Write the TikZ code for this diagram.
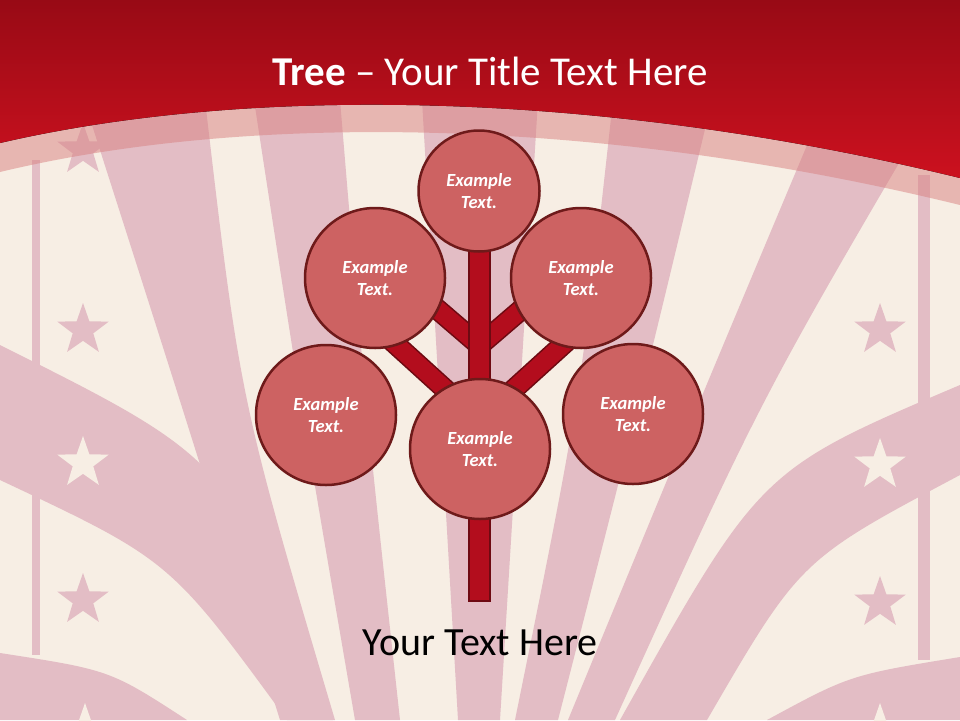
\documentclass[tikz,border=0pt]{standalone}
\usepackage{fontspec}
\setmainfont{Carlito}
\usetikzlibrary{shapes.geometric}
\definecolor{cream}{HTML}{F7EEE4}
\definecolor{raypink}{HTML}{E3BDC5}
\definecolor{bandpink}{HTML}{D98080}
\definecolor{hdrtop}{HTML}{980A15}
\definecolor{hdrbot}{HTML}{CC111F}
\definecolor{bubblefill}{HTML}{CD6262}
\definecolor{bubbleline}{HTML}{6E1A1A}
\definecolor{trunkfill}{HTML}{B30D1D}
\definecolor{trunkline}{HTML}{6E0A12}
\begin{document}
\begin{tikzpicture}[x=1pt,y=-1pt,
  bubble/.style={circle, fill=bubblefill, draw=bubbleline, line width=2.5pt,
    minimum size=140pt, inner sep=0pt, text=white, align=center,
    font=\fontsize{18.5}{22}\selectfont\bfseries\itshape},
  smallbubble/.style={bubble, minimum size=121pt},
  branch/.style={draw=trunkline, line width=1.6pt, double=trunkfill, double distance=18pt},
  trunkbox/.style={rectangle, fill=trunkfill, draw=trunkline, line width=1.8pt,
    minimum width=21pt, minimum height=356pt, inner sep=0pt},
  starshape/.style={star, star points=5, star point ratio=2.5, minimum size=54pt, inner sep=0pt},
  raystyle/.style={fill=raypink}]
\useasboundingbox (0,0) rectangle (960,720);
% background
\fill[cream] (0,0) rectangle (960,720);
% rays
\fill[raystyle] (84,100) -- (205,100) .. controls (240,400) .. (335,720) -- (280,720) .. controls (180,400) .. cycle;
\fill[raystyle] (254,100) -- (340,100) .. controls (365,400) .. (400,720) -- (355,720) .. controls (300,400) .. cycle;
\fill[raystyle] (422,100) -- (538,100) -- (500,720) -- (458,720) -- cycle;
\fill[raystyle] (613,100) -- (712,100) .. controls (640,400) .. (558,720) -- (515,720) .. controls (580,400) .. cycle;
\fill[raystyle] (826,100) -- (936,100) .. controls (760,400) .. (615,720) -- (568,720) .. controls (700,400) .. cycle;
% curved side bands
\fill[raystyle] (0,345) .. controls (230,460) .. (333,720) -- (287,720) .. controls (170,560) .. (0,480) -- cycle;
\fill[raystyle] (960,385) .. controls (760,470) .. (620,720) -- (707,720) .. controls (800,560) .. (960,475) -- cycle;
% corner arcs
\fill[raystyle] (0,653) .. controls (110,670) .. (187,720) -- (0,720) -- cycle;
\fill[raystyle] (960,657) .. controls (850,675) .. (767,720) -- (960,720) -- cycle;
% vertical stripes
\fill[raystyle] (32,160) rectangle (40,655);
\fill[raystyle] (918,175) rectangle (930,660);
% stars
\node[starshape, fill=raypink] (sl1) at (83,330) {};
\node[starshape, fill=cream] (sl2) at (83,463) {};
\node[starshape, fill=raypink] (sl3) at (83,600) {};
\node[starshape, fill=cream] (sl4) at (85,730) {};
\node[starshape, fill=raypink] (sl0) at (83,150) {};
\node[starshape, fill=raypink] (sr1) at (880,330) {};
\node[starshape, fill=cream] (sr2) at (880,465) {};
\node[starshape, fill=raypink] (sr3) at (880,603) {};
\node[starshape, fill=cream] (sr4) at (880,730) {};
% translucent band under header
\fill[bandpink, opacity=0.5] (0,140) .. controls (250,82) and (600,87) .. (960,175)
  -- (960,205) .. controls (600,117) and (250,112) .. (0,172) -- cycle;
% header
\fill[top color=hdrtop, bottom color=hdrbot] (0,0) -- (960,0) -- (960,178)
  .. controls (600,90) and (250,85) .. (0,143) -- cycle;
\node[anchor=base, text=white, font=\fontsize{41}{49}\selectfont] (title) at (490,85)
  {\textbf{Tree} – Your Title Text Here};
% tree: branches
\coordinate (j1) at (479,345);
\coordinate (j2) at (479,420);
\coordinate (j3) at (480,345);
\coordinate (j4) at (480,420);
\coordinate (e1) at (415,290);
\coordinate (e2) at (370,321);
\coordinate (e3) at (544,290);
\coordinate (e4) at (589,321);
\draw[branch] (j1) -- (e1);
\draw[branch] (j2) -- (e2);
\draw[branch] (j3) -- (e3);
\draw[branch] (j4) -- (e4);
% trunk
\node[trunkbox] (trunk) at (479.5,423) {};
% circles
\node[smallbubble] (top) at (479,191) {Example\\Text.};
\node[bubble] (ul) at (375,278) {Example\\Text.};
\node[bubble] (ur) at (581,278) {Example\\Text.};
\node[bubble] (ll) at (326,415) {Example\\Text.};
\node[bubble] (lr) at (633,414) {Example\\Text.};
\node[bubble] (bot) at (480,449) {Example\\Text.};
% caption
\node[anchor=base, text=black, font=\fontsize{40}{48}\selectfont] (caption) at (480,655) {Your Text Here};
\end{tikzpicture}
\end{document}
